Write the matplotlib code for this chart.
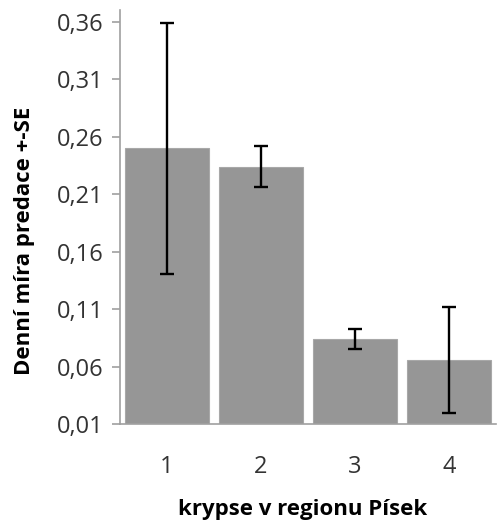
import matplotlib
matplotlib.use("Agg")
import matplotlib.pyplot as plt
from matplotlib.ticker import FuncFormatter

categories = ["1", "2", "3", "4"]
rates = [0.250, 0.234, 0.084, 0.066]
se = [0.109, 0.018, 0.009, 0.046]
yticks = [0.01, 0.06, 0.11, 0.16, 0.21, 0.26, 0.31, 0.36]

plt.rcParams['font.family'] = ['Open Sans', 'DejaVu Sans']

fig = plt.figure(figsize=(4.97, 5.25), dpi=100)
ax = fig.add_axes([120 / 497, 101 / 525, 376 / 497, 414 / 525])

x = list(range(len(categories)))
ax.bar(x, rates, width=0.89, color='#969696', edgecolor='#a8a8a8', linewidth=0.8, zorder=2)
ax.errorbar(x, rates, yerr=se, fmt='none', ecolor='black', elinewidth=1.7,
            capsize=5, capthick=1.7, zorder=3)

ax.set_xlim(-0.5, 3.5)
ax.set_ylim(0.01, 0.3705)
ax.set_yticks(yticks)
ax.yaxis.set_major_formatter(FuncFormatter(lambda v, p: f"{v:.2f}".replace(".", ",")))
ax.set_xticks(x)
ax.set_xticklabels(categories)

for s in ['top', 'right']:
    ax.spines[s].set_visible(False)
for s in ['left', 'bottom']:
    ax.spines[s].set_color('#a0a0a0')
    ax.spines[s].set_linewidth(1.2)
ax.tick_params(axis='y', colors='#a0a0a0', length=6, width=1.2, labelsize=17,
               labelcolor='#333333', pad=6)
ax.tick_params(axis='x', length=0, labelsize=17, labelcolor='#333333', pad=22)

ax.set_ylabel("Denní míra predace +-SE", fontsize=16, fontweight='bold')
ax.yaxis.set_label_coords(-0.253, 0.442)
ax.set_xlabel("krypse v regionu Písek", fontsize=16, fontweight='bold')
ax.xaxis.set_label_coords((303 - 120) / 376, -(510 - 424) / 414)
ax.xaxis.label.set_va('center')
ax.yaxis.label.set_va('center')

fig.savefig("out.png", dpi=100)
